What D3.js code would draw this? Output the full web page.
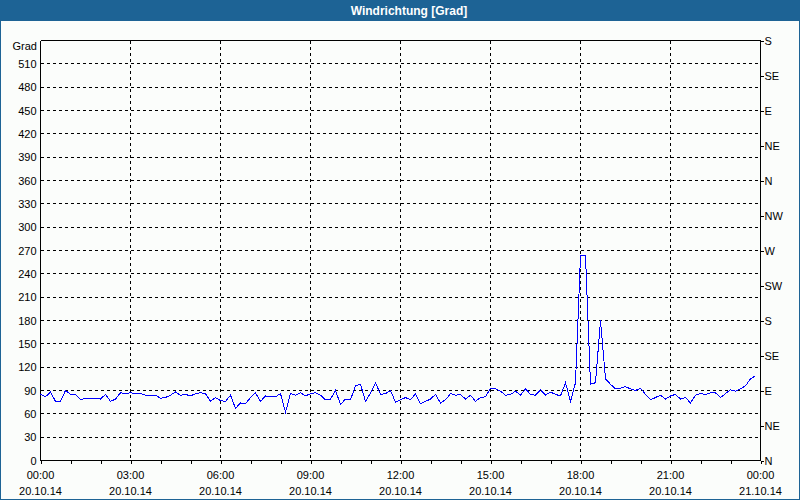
<!DOCTYPE html>
<html>
<head>
<meta charset="utf-8">
<script src="https://cdn.jsdelivr.net/npm/d3@7"></script>
<style>
  html, body { margin: 0; padding: 0; background: #fbfdfb; }
  svg { display: block; }
  text { font-family: "Liberation Sans", Arial, sans-serif; }
</style>
</head>
<body>
<svg id="chart" width="800" height="500"></svg>
<script>
// ---- data ----
const title = "Windrichtung [Grad]";
const yUnit = "Grad";
const startTime = "2014-10-20T00:00:00";
const stepMinutes = 10;
const windDir = [
  85, 82, 88, 76, 76, 90, 85, 85, 78, 80,
  80, 80, 79, 85, 76, 79, 87, 86, 87, 86,
  86, 84, 84, 84, 80, 81, 84, 88, 84, 85,
  83, 86, 87, 86, 76, 81, 77, 76, 84, 67,
  74, 73, 81, 87, 76, 83, 82, 82, 86, 62,
  86, 84, 87, 83, 86, 87, 84, 78, 79, 90,
  72, 79, 78, 96, 98, 76, 87, 100, 85, 86,
  90, 75, 78, 81, 78, 86, 73, 76, 79, 85,
  74, 78, 86, 84, 85, 79, 84, 76, 81, 82,
  93, 92, 89, 84, 85, 89, 84, 92, 85, 84,
  91, 84, 88, 85, 83, 100, 76, 100, 263, 263,
  98, 100, 180, 105, 98, 92, 93, 95, 92, 90,
  93, 85, 78, 81, 84, 79, 83, 85, 79, 81,
  74, 84, 86, 85, 87, 87, 81, 86, 91, 89,
  92, 96, 105, 109
];
const leftTicks = [0, 30, 60, 90, 120, 150, 180, 210, 240, 270, 300, 330, 360, 390, 420, 450, 480, 510];
const rightTickValues = [0, 45, 90, 135, 180, 225, 270, 315, 360, 405, 450, 495, 540];
const rightTickLabels = ["N", "NE", "E", "SE", "S", "SW", "W", "NW", "N", "NE", "E", "SE", "S"];
const xMajorTicks = ["2014-10-20T00:00:00", "2014-10-20T03:00:00", "2014-10-20T06:00:00", "2014-10-20T09:00:00",
  "2014-10-20T12:00:00", "2014-10-20T15:00:00", "2014-10-20T18:00:00", "2014-10-20T21:00:00", "2014-10-21T00:00:00"];
const xDomain = ["2014-10-20T00:00:00", "2014-10-21T00:00:00"];
const yDomain = [0, 540];

// ---- layout ----
const W = 800, H = 500;
const L = 40.5, R = 760.5, T = 40.5, B = 460.5;
const frameColor = "#1d6395";

const svg = d3.select("#chart");
svg.append("rect").attr("width", W).attr("height", H).attr("fill", "#fbfdfb");

// title bar
svg.append("rect").attr("x", 0).attr("y", 0).attr("width", W).attr("height", 21).attr("fill", frameColor);
svg.append("text").attr("x", 409).attr("y", 15).attr("text-anchor", "middle")
  .attr("fill", "#ffffff").attr("font-weight", "bold").attr("font-size", "12px").text(title);
// window frame
svg.append("rect").attr("x", 0.5).attr("y", 0.5).attr("width", W - 1).attr("height", H - 1)
  .attr("fill", "none").attr("stroke", frameColor).attr("stroke-width", 1);

const parse = d3.isoParse;
const x = d3.scaleTime().domain(xDomain.map(parse)).range([L, R]);
const y = d3.scaleLinear().domain(yDomain).range([B, T]);

const data = windDir.map((v, i) => ({ t: new Date(parse(startTime).getTime() + i * stepMinutes * 60000), v }));

// grid
const grid = svg.append("g").attr("stroke", "#000").attr("stroke-width", 1)
  .attr("stroke-dasharray", "3,3").attr("shape-rendering", "crispEdges");
leftTicks.filter(d => d > 0).forEach(d => {
  grid.append("line").attr("x1", L).attr("x2", R).attr("y1", y(d)).attr("y2", y(d));
});
xMajorTicks.slice(1, -1).map(parse).forEach(d => {
  grid.append("line").attr("x1", x(d)).attr("x2", x(d)).attr("y1", T).attr("y2", B);
});

// axes
const fmtTime = d3.timeFormat("%H:%M");
const fmtDate = d3.timeFormat("%d.%m.%y");

const xAxis = svg.append("g").attr("transform", `translate(0,${B})`)
  .call(d3.axisBottom(x).ticks(d3.timeHour.every(1)).tickSize(3).tickFormat(""));
const yAxis = svg.append("g").attr("transform", `translate(${L},0)`)
  .call(d3.axisLeft(y).tickValues(leftTicks).tickSize(0).tickPadding(4));
const yAxisR = svg.append("g").attr("transform", `translate(${R},0)`)
  .call(d3.axisRight(y).tickValues(rightTickValues).tickSize(3).tickPadding(1)
    .tickFormat((d, i) => rightTickLabels[i]));
svg.append("line").attr("x1", L).attr("x2", R).attr("y1", T).attr("y2", T)
  .attr("stroke", "#000").attr("shape-rendering", "crispEdges");

[xAxis, yAxis, yAxisR].forEach(g => {
  g.attr("font-family", "Liberation Sans, Arial, sans-serif").attr("font-size", "11px");
  g.selectAll("path.domain").attr("stroke", "#000").attr("shape-rendering", "crispEdges");
  g.selectAll(".tick line").attr("stroke", "#000").attr("shape-rendering", "crispEdges");
  g.selectAll(".tick text").attr("fill", "#000");
});
yAxis.selectAll("path.domain").attr("d", `M0,${B}V${T}`);
yAxisR.selectAll("path.domain").attr("d", `M0,${B}V${T}`);
xAxis.selectAll("path.domain").attr("d", `M${L},0H${R}`);

// x labels (two lines)
const xl = svg.append("g").attr("font-size", "11px").attr("fill", "#000").attr("text-anchor", "middle");
xMajorTicks.map(parse).forEach(d => {
  xl.append("text").attr("x", x(d)).attr("y", 479).text(fmtTime(d));
  xl.append("text").attr("x", x(d)).attr("y", 495).text(fmtDate(d));
});

// y unit label
svg.append("text").attr("x", 37).attr("y", 50).attr("text-anchor", "end")
  .attr("font-size", "11px").attr("fill", "#000").text(yUnit);

// line
const line = d3.line().x(d => x(d.t)).y(d => y(d.v));
svg.append("path").datum(data).attr("d", line)
  .attr("fill", "none").attr("stroke", "#0000ff").attr("stroke-width", 1)
  .attr("shape-rendering", "crispEdges");
</script>
</body>
</html>
